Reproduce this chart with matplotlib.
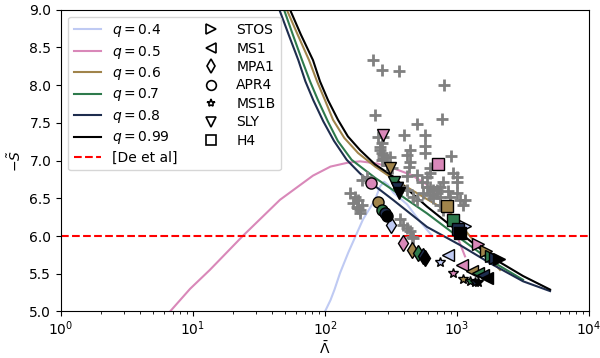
import numpy as np
import matplotlib
matplotlib.use('Agg')
import matplotlib.pyplot as plt

# q curves: (Lambda, -S)
q_labels = ['$q = 0.4$', '$q = 0.5$', '$q = 0.6$', '$q = 0.7$', '$q = 0.8$', '$q = 0.99$']
q_colors = ['#bfcaf3', '#d988b9', '#a0844b', '#2e7a4c', '#1e2d4e', '#000000']

lam_q04 = [100, 110, 118, 130, 150, 184, 194, 239, 262, 280, 300, 327, 418, 520, 650]
s_q04 = [5.0, 5.15, 5.29, 5.51, 5.78, 6.13, 6.22, 6.48, 6.66, 6.72, 6.68, 6.58, 6.42, 6.2, 6.0]

lam_q05 = [6.7, 9.5, 13.4, 23.8, 45.6, 81, 110, 147, 184, 250, 327, 450, 593, 720, 840, 1000, 1150]
s_q05 = [5.0, 5.3, 5.55, 6.0, 6.48, 6.8, 6.92, 6.97, 6.99, 6.96, 6.90, 6.81, 6.68, 6.52, 6.35, 6.0, 5.73]

lam_q06 = [51.3, 62, 75.7, 87, 100, 115, 140, 178, 240, 327, 590, 885, 1322, 2118]
s_q06 = [9.0, 8.67, 8.33, 8.05, 7.80, 7.54, 7.30, 7.10, 6.92, 6.76, 6.49, 6.31, 5.95, 5.55]

lam_q07 = [48.9, 57, 67, 77, 88.5, 105, 125, 159, 240, 327, 592, 1054, 1778, 3162]
s_q07 = [9.0, 8.67, 8.33, 8.05, 7.80, 7.52, 7.26, 7.01, 6.77, 6.61, 6.30, 5.97, 5.68, 5.42]

lam_q08 = [45.1, 53, 62.8, 71, 81.5, 97, 117, 146, 184, 240, 327, 593, 1054, 1778, 3162, 5070]
s_q08 = [9.0, 8.67, 8.33, 8.05, 7.80, 7.52, 7.26, 7.01, 6.83, 6.66, 6.48, 6.12, 5.88, 5.64, 5.40, 5.27]

lam_q099 = [54.3, 65.6, 81.1, 91.6, 105.4, 125.4, 149, 184, 239, 327, 592, 1054, 1778, 3162, 5070]
s_q099 = [9.0, 8.67, 8.33, 8.05, 7.80, 7.54, 7.32, 7.14, 6.95, 6.79, 6.39, 6.04, 5.73, 5.47, 5.29]

de_et_al = 6.0

# grey crosses
gray_lam = [231, 268, 364, 798, 239, 498, 769, 397, 573, 252, 275, 261, 573, 573,
            441, 418, 270, 275, 311, 900, 441, 432, 295, 322, 624, 624, 593, 498,
            418, 933, 1000, 784, 543, 593, 624, 658, 705, 743, 1000, 552, 624, 705,
            658, 743, 855, 885, 1000, 1054, 1110, 1150, 743, 784, 464, 498, 418, 383,
            208, 191, 155, 169, 178, 191, 174, 184, 162, 178, 184, 219, 370, 390,
            418, 441, 453, 464, 268, 261, 275, 270]
gray_s = [8.33, 8.20, 8.19, 8.00, 7.60, 7.49, 7.55, 7.34, 7.34, 7.31, 7.31, 7.18, 7.19, 7.10,
          7.14, 7.08, 7.10, 7.04, 7.05, 7.06, 6.98, 6.92, 6.94, 6.90, 6.90, 6.84, 6.78, 6.81,
          6.80, 6.84, 6.78, 6.72, 6.71, 6.65, 6.65, 6.61, 6.61, 6.65, 6.71, 6.57, 6.55, 6.57,
          6.51, 6.52, 6.59, 6.52, 6.57, 6.48, 6.41, 6.48, 6.41, 6.35, 6.52, 6.48, 6.61, 6.65,
          6.78, 6.74, 6.57, 6.52, 6.48, 6.41, 6.39, 6.35, 6.44, 6.37, 6.31, 6.71, 6.22, 6.15,
          6.11, 6.06, 5.99, 5.98, 7.23, 7.14, 7.08, 7.01]

# EOS points, one per q (None = not visible)
eos_names = ['STOS', 'MS1', 'MPA1', 'APR4', 'MS1B', 'SLY', 'H4']
eos_markers = ['>', '<', 'd', 'o', '*', 'v', 's']
eos_lam = {
    'STOS': [1150, 1443, 1660, 1800, 1940, 2080],
    'MS1': [859, 1086, 1292, 1450, 1585, 1680],
    'MPA1': [315, 388, 459, 509, 550, 573],
    'APR4': [None, 222, 251, 269, 285, 294],
    'MS1B': [743, 937, 1117, 1254, 1368, 1450],
    'SLY': [None, 277, 311, 333, 349, 364],
    'H4': [None, 721, 845, 937, 1023, 1054],
}
eos_s = {
    'STOS': [6.13, 5.90, 5.80, 5.74, 5.71, 5.69],
    'MS1': [5.75, 5.61, 5.54, 5.51, 5.48, 5.45],
    'MPA1': [6.14, 5.91, 5.82, 5.77, 5.73, 5.71],
    'APR4': [None, 6.70, 6.45, 6.35, 6.30, 6.26],
    'MS1B': [5.66, 5.51, 5.43, 5.40, 5.39, 5.39],
    'SLY': [None, 7.34, 6.90, 6.72, 6.64, 6.57],
    'H4': [None, 6.95, 6.40, 6.21, 6.09, 6.04],
}

fig = plt.figure(figsize=(6, 3.58), dpi=100)
ax = fig.add_axes([0.1017, 0.1300, 0.88, 0.843])

curves = [(lam_q04, s_q04), (lam_q05, s_q05), (lam_q06, s_q06),
          (lam_q07, s_q07), (lam_q08, s_q08), (lam_q099, s_q099)]
for (lam, s), c, lab in zip(curves, q_colors, q_labels):
    ax.plot(lam, s, color=c, lw=1.5, label=lab)

ax.axhline(de_et_al, color='red', ls='--', lw=1.5, label='[De et al]')

ax.plot(gray_lam, gray_s, '+', color='gray', ms=8, mew=2, ls='none', zorder=3)

for name, mk in zip(eos_names, eos_markers):
    ms = 7 if mk == '*' else 8
    for i, c in enumerate(q_colors):
        lx = eos_lam[name][i]
        sy = eos_s[name][i]
        if lx is None:
            continue
        ax.plot(lx, sy, marker=mk, color=c, mec='black', mew=1, ms=ms, ls='none', zorder=4)
    ax.plot([], [], marker=mk, mfc='white', mec='black', mew=1.2, ms=6 if mk == '*' else 7,
            ls='none', label=name)

ax.set_xscale('log')
ax.set_xlim(1, 1e4)
ax.set_ylim(5.0, 9.0)
ax.set_yticks(np.arange(5.0, 9.01, 0.5))
ax.tick_params(axis='x', pad=2.5)
ax.set_xlabel(r'$\bar{\Lambda}$', labelpad=1)
ax.set_ylabel(r'$-\tilde{S}$')
ax.legend(loc='upper left', ncol=2, fontsize=10, labelspacing=0.32, columnspacing=1.4)

fig.savefig('out.png', dpi=100)
